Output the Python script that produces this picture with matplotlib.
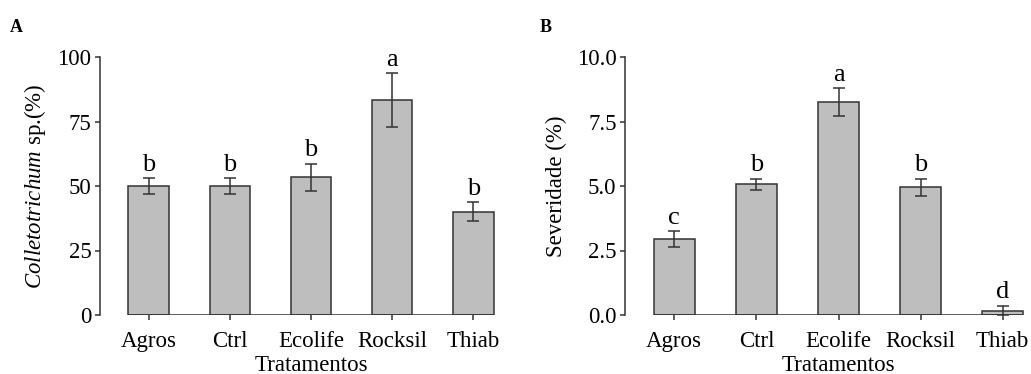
import matplotlib
matplotlib.use("Agg")
import matplotlib.pyplot as plt
import numpy as np

plt.rcParams['font.family'] = ['Liberation Serif', 'DejaVu Serif']
plt.rcParams['mathtext.fontset'] = 'custom'
plt.rcParams['mathtext.rm'] = 'Liberation Serif'
plt.rcParams['mathtext.it'] = 'Liberation Serif:italic'

categories = ["Agros", "Ctrl", "Ecolife", "Rocksil", "Thiab"]

# Panel A: Colletotrichum sp. (%)
incid_mean = [50.0, 50.0, 53.3, 83.3, 40.0]
incid_se = [3.0, 3.0, 5.4, 10.4, 3.7]
incid_letters = ["b", "b", "b", "a", "b"]
incid_ticks = [0, 25, 50, 75, 100]
incid_ticklabels = ["0", "25", "50", "75", "100"]

# Panel B: Severidade (%)
sev_mean = [2.95, 5.07, 8.25, 4.95, 0.15]
sev_se = [0.30, 0.22, 0.53, 0.33, 0.20]
sev_letters = ["c", "b", "a", "b", "d"]
sev_ticks = [0.0, 2.5, 5.0, 7.5, 10.0]
sev_ticklabels = ["0.0", "2.5", "5.0", "7.5", "10.0"]

W, H = 1031, 374
fig = plt.figure(figsize=(W / 100, H / 100), dpi=100)

dark = "#333333"
fill = "#bebebe"


def panel(rect, means, ses, letters, ticks, ticklabels, ylabel, ylim, tag, tagx):
    ax = fig.add_axes(rect)
    x = np.arange(len(categories))
    w = 0.5
    ax.bar(x, means, width=w, color=fill, edgecolor=dark, linewidth=1.1, zorder=2)
    ax.errorbar(x, means, yerr=ses, fmt="none", ecolor=dark, elinewidth=1.1,
                capsize=4.3, capthick=1.1, zorder=3)
    ax.hlines(0, x[0] - w / 2, x[-1] + w / 2, color=dark, linewidth=1.1, zorder=4)
    for xi, m, s, lab in zip(x, means, ses, letters):
        ax.annotate(lab, (xi, m + s), xytext=(0, 5.5), textcoords="offset points",
                    ha="center", va="baseline", fontsize=19, color="black")
    ax.set_xlim(-0.6, len(categories) - 0.4)
    ax.set_ylim(*ylim)
    ax.set_xticks(x)
    ax.set_xticklabels(categories, fontsize=16.5)
    ax.set_yticks(ticks)
    ax.set_yticklabels(ticklabels, fontsize=16.5)
    for s in ["top", "right", "bottom"]:
        ax.spines[s].set_visible(False)
    ax.spines["left"].set_color(dark)
    ax.spines["left"].set_linewidth(1.1)
    ax.tick_params(axis="both", colors=dark, length=3.6, width=1.1, labelcolor="black")
    ax.tick_params(axis="x", pad=8)
    ax.tick_params(axis="y", pad=2.5)
    ax.set_xlabel("Tratamentos", fontsize=16.5, labelpad=2)
    ax.set_ylabel(ylabel, fontsize=16.5, labelpad=7)
    fig.text(tagx / W, 1 - 28 / H, tag, fontsize=13, fontweight="bold", ha="left", va="center")
    return ax


axA = panel([100 / W, 59 / H, 422 / W, 258 / H], incid_mean, incid_se, incid_letters,
            incid_ticks, incid_ticklabels, r"$\it{Colletotrichum}$ sp.(%)", (0, 100), "A", 10)
axB = panel([625 / W, 59 / H, 427 / W, 258 / H], sev_mean, sev_se, sev_letters,
            sev_ticks, sev_ticklabels, "Severidade (%)", (0, 10), "B", 540)

fig.savefig("out.png", dpi=100)
